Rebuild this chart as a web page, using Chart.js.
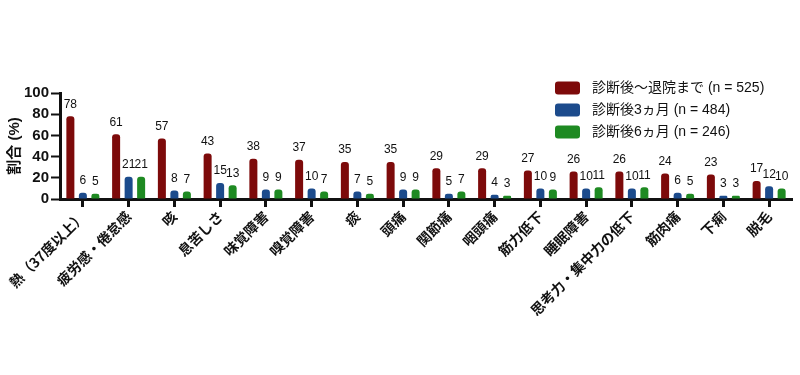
<!DOCTYPE html>
<html><head><meta charset="utf-8">
<script src="https://cdn.jsdelivr.net/npm/chart.js@4/dist/chart.umd.min.js"></script>
<style>html,body{margin:0;padding:0;background:#fff}#wrap{width:800px;height:375px;position:relative}</style>
</head><body><div id="wrap"><canvas id="c" width="800" height="375"></canvas></div>
<script>
const categories = ["熱（37度以上）","疲労感・倦怠感","咳","息苦しさ","味覚障害","嗅覚障害","痰","頭痛","関節痛","咽頭痛","筋力低下","睡眠障害","思考力・集中力の低下","筋肉痛","下痢","脱毛"];
const seriesNames = ["診断後～退院まで (n = 525)","診断後3ヵ月 (n = 484)","診断後6ヵ月 (n = 246)"];
const untilDischarge = [78,61,57,43,38,37,35,35,29,29,27,26,26,24,23,17];
const after3Months = [6,21,8,15,9,10,7,9,5,4,10,10,10,6,3,12];
const after6Months = [5,21,7,13,9,7,5,9,7,3,9,11,11,5,3,10];
const yTicks = [0,20,40,60,80,100];
const colors = ["#7d0a0a","#1c4b8c","#1e8a22"];
const FONT = "'Noto Sans CJK JP','Liberation Sans',sans-serif";
const MIXED = "'Liberation Sans','Noto Sans CJK JP',sans-serif";

const valueLabels = {
  id:'valueLabels',
  afterDatasetsDraw(chart){
    const ctx = chart.ctx;
    ctx.save();
    ctx.fillStyle = '#111';
    ctx.font = "12px 'Liberation Sans', sans-serif";
    ctx.textAlign = 'center';
    ctx.textBaseline = 'bottom';
    chart.data.datasets.forEach((ds,i)=>{
      const meta = chart.getDatasetMeta(i);
      meta.data.forEach((bar,j)=>{
        ctx.fillText(String(ds.data[j]), bar.x, bar.y - 6);
      });
    });
    ctx.restore();
  }
};
const customLegend = {
  id:'customLegend',
  afterDraw(chart){
    const ctx = chart.ctx;
    ctx.save();
    ctx.font = "14px " + MIXED;
    ctx.textBaseline = 'middle';
    ctx.textAlign = 'left';
    const rows = [88,110,132];
    seriesNames.forEach((n,i)=>{
      ctx.fillStyle = colors[i];
      ctx.beginPath();
      ctx.roundRect(555, rows[i]-6.5, 25, 13, 3);
      ctx.fill();
      ctx.fillStyle = '#111';
      ctx.fillText(n, 592, rows[i]);
    });
    ctx.restore();
  }
};

new Chart(document.getElementById('c'), {
  type:'bar',
  data:{
    labels: categories,
    datasets:[
      {label:seriesNames[0], data:untilDischarge, backgroundColor:colors[0]},
      {label:seriesNames[1], data:after3Months, backgroundColor:colors[1]},
      {label:seriesNames[2], data:after6Months, backgroundColor:colors[2]}
    ]
  },
  options:{
    responsive:false,
    animation:false,
    devicePixelRatio:1,
    layout:{padding:{top:93, right:8, left:6, bottom:0}},
    datasets:{bar:{categoryPercentage:0.82, barPercentage:0.64, borderRadius:{topLeft:3,topRight:3}, borderSkipped:'bottom'}},
    plugins:{legend:{display:false}, tooltip:{enabled:false}},
    scales:{
      x:{
        grid:{display:true, offset:false, drawOnChartArea:false, tickLength:8, tickWidth:3, color:'#111'},
        border:{display:true, color:'#111', width:3},
        ticks:{color:'#111', font:{family:FONT, size:14, weight:'bold'}, minRotation:45, maxRotation:45, autoSkip:false, padding:1},
        afterFit(scale){ scale.height = 176; }
      },
      y:{
        min:0, max:100,
        afterBuildTicks(scale){ scale.ticks = yTicks.map(v=>({value:v})); },
        grid:{display:true, drawOnChartArea:false, tickLength:9, tickWidth:2, color:'#111'},
        border:{display:true, color:'#111', width:3},
        ticks:{color:'#111', font:{family:"'Liberation Sans',sans-serif", size:15, weight:'bold'}, padding:2},
        title:{display:true, text:'割合 (%)', color:'#111', font:{family:MIXED, size:15, weight:'bold'}, padding:{top:0,bottom:4}},
        afterFit(scale){ scale.width = 54; }
      }
    }
  },
  plugins:[valueLabels, customLegend]
});
</script>
</body></html>
